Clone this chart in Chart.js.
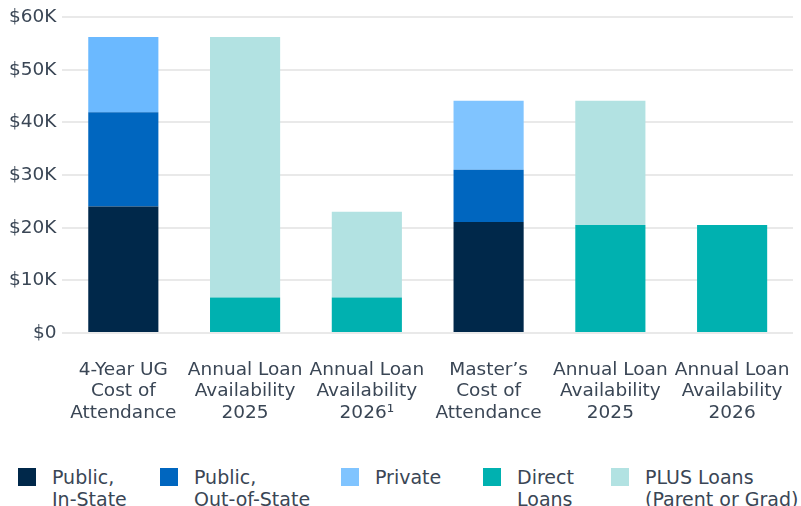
<!DOCTYPE html>
<html>
<head>
<meta charset="utf-8">
<script src="https://cdn.jsdelivr.net/npm/chart.js@4.4.1/dist/chart.umd.min.js"></script>
<style>
    html, body {
        margin: 0;
        padding: 0;
        background: #fff;
        width: 801px;
        height: 506px;
        overflow: hidden;
        font-family: 'DejaVu Sans', Verdana, sans-serif;
    }
    .chart-wrap {
        position: absolute;
        left: 0;
        top: 0;
        width: 801px;
        height: 424px;
    }
    .legend {
        position: absolute;
        left: 0;
        top: 466px;
        width: 801px;
        font-size: 19px;
        line-height: 22px;
        color: #3a4655;
    }
    .legend-item {
        position: absolute;
        top: 0;
        display: flex;
        align-items: flex-start;
        white-space: nowrap;
    }
    .legend-box {
        width: 18px;
        height: 18px;
        margin-top: 2px;
        margin-right: 16px;
        flex: none;
    }
</style>
</head>
<body>
<div class="chart-wrap"><canvas id="loanChart"></canvas></div>
<div class="legend" id="legend"></div>
<script>
// Categories (x axis, multi-line)
const categories = [
    ['4-Year UG', 'Cost of', 'Attendance'],
    ['Annual Loan', 'Availability', '2025'],
    ['Annual Loan', 'Availability', '2026\u00B9'],
    ['Master\u2019s', 'Cost of', 'Attendance'],
    ['Annual Loan', 'Availability', '2025'],
    ['Annual Loan', 'Availability', '2026']
];

// Stacked segment values in dollars
const publicInState    = [24050, null, null, 21100, null, null];
const publicOutOfState = [17900, null, null, 9900, null, null];
const privateCost      = [14250, null, null, 13100, null, null];
const directLoans      = [null, 6750, 6750, null, 20500, 20500];
const plusLoans        = [null, 49450, 16300, null, 23600, null];

// Y axis ticks
const yTicks = [0, 10000, 20000, 30000, 40000, 50000, 60000];

const legendLabels = [
    ['Public,', 'In-State'],
    ['Public,', 'Out-of-State'],
    ['Private'],
    ['Direct', 'Loans'],
    ['PLUS Loans', '(Parent or Grad)']
];
const colors = ['#00284a', '#0066bf', '#80c4ff', '#00b1b0', '#b2e2e2'];
const legendLeft = [18, 160, 341, 483, 611];

const textColor = '#3a4655';
const fontFamily = "'DejaVu Sans', Verdana, sans-serif";

const datasets = [
    { label: legendLabels[0].join(' '), data: publicInState, backgroundColor: colors[0] },
    { label: legendLabels[1].join(' '), data: publicOutOfState, backgroundColor: colors[1] },
    { label: legendLabels[2].join(' '), data: privateCost,
      backgroundColor: ['#6bb9ff', colors[2], colors[2], colors[2], colors[2], colors[2]] },
    { label: legendLabels[3].join(' '), data: directLoans, backgroundColor: colors[3] },
    { label: legendLabels[4].join(' '), data: plusLoans, backgroundColor: colors[4] }
];

function buildLegend() {
    const legend = document.getElementById('legend');
    legend.innerHTML = legendLabels.map((lines, i) => `
        <div class="legend-item" style="left:${legendLeft[i]}px">
            <div class="legend-box" style="background:${colors[i]}"></div>
            <div>${lines.join('<br>')}</div>
        </div>
    `).join('');
}

function initializeChart() {
    const ctx = document.getElementById('loanChart').getContext('2d');
    new Chart(ctx, {
        type: 'bar',
        data: {
            labels: categories,
            datasets: datasets.map(ds => ({
                ...ds,
                barPercentage: 0.576,
                categoryPercentage: 1,
                borderWidth: 0
            }))
        },
        options: {
            responsive: true,
            maintainAspectRatio: false,
            animation: false,
            layout: {
                padding: { top: 5, right: 8, left: 3, bottom: 0 }
            },
            plugins: {
                legend: { display: false },
                tooltip: { enabled: false }
            },
            scales: {
                x: {
                    stacked: true,
                    // invisible tick marks push the labels down without shrinking the plot width
                    grid: {
                        display: true,
                        drawOnChartArea: false,
                        drawTicks: true,
                        tickLength: 26,
                        color: 'rgba(0,0,0,0)'
                    },
                    border: { display: false },
                    ticks: {
                        color: textColor,
                        font: { family: fontFamily, size: 18.5, lineHeight: 1.17 },
                        padding: 0,
                        maxRotation: 0,
                        autoSkip: false
                    }
                },
                y: {
                    stacked: true,
                    min: 0,
                    max: 60000,
                    afterBuildTicks: axis => {
                        axis.ticks = yTicks.map(v => ({ value: v }));
                    },
                    grid: {
                        color: '#e9e9e9',
                        lineWidth: 2,
                        drawTicks: false
                    },
                    border: { display: false },
                    ticks: {
                        color: textColor,
                        font: { family: fontFamily, size: 18.5 },
                        padding: 6,
                        callback: v => v === 0 ? '$0' : '$' + (v / 1000) + 'K'
                    }
                }
            }
        }
    });
}

buildLegend();
initializeChart();
</script>
</body>
</html>
